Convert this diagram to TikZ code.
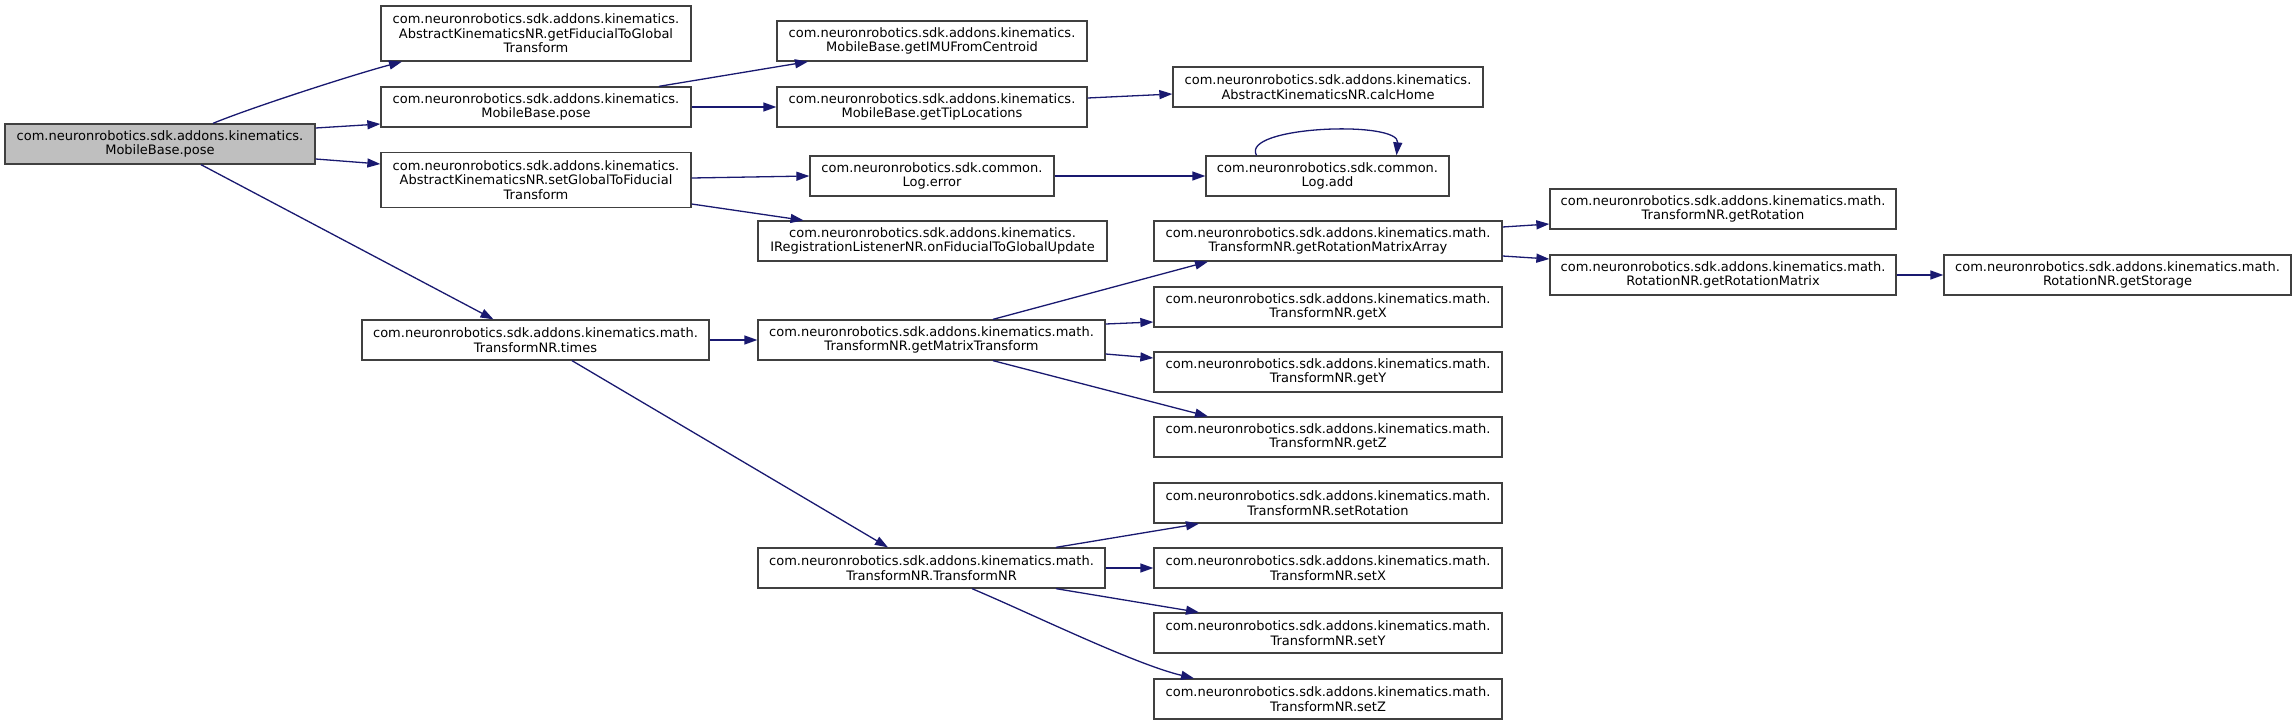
\documentclass[tikz,border=0pt]{standalone}
\usepackage{fontspec}
\setmainfont{DejaVu Sans}
\usetikzlibrary{arrows.meta}
\definecolor{edgec}{HTML}{191970}
\definecolor{boxc}{HTML}{404040}
\definecolor{rootfill}{HTML}{BFBFBF}
\begin{document}
\begin{tikzpicture}[x=1pt,y=-1pt,
  box/.style={draw=boxc,line width=1.3pt,fill=white,rectangle,inner sep=0pt,align=center,
    font=\fontsize{13}{14.5}\selectfont,minimum height=40pt},
  tall/.style={minimum height=55pt},
  rootbox/.style={fill=rootfill},
  edge/.style={draw=edgec,line width=1.3pt,-{Triangle[length=13pt,width=9pt]},color=edgec}]
\useasboundingbox (0,0) rectangle (2296,725);
% column 1
\node[box,rootbox,minimum width=310pt] (root) at (160,144) {com.neuronrobotics.sdk.addons.kinematics.\\MobileBase.pose};
% column 2
\node[box,tall,minimum width=310pt] (getFid) at (536,33.5) {com.neuronrobotics.sdk.addons.kinematics.\\AbstractKinematicsNR.getFiducialToGlobal\\Transform};
\node[box,minimum width=310pt] (mbpose) at (536,107) {com.neuronrobotics.sdk.addons.kinematics.\\MobileBase.pose};
\node[box,tall,minimum width=310pt] (setGF) at (536,180) {com.neuronrobotics.sdk.addons.kinematics.\\AbstractKinematicsNR.setGlobalToFiducial\\Transform};
\node[box,minimum width=347pt] (times) at (535.5,340) {com.neuronrobotics.sdk.addons.kinematics.math.\\TransformNR.times};
% column 3
\node[box,minimum width=310pt] (getIMU) at (932,41) {com.neuronrobotics.sdk.addons.kinematics.\\MobileBase.getIMUFromCentroid};
\node[box,minimum width=310pt] (getTip) at (932,107) {com.neuronrobotics.sdk.addons.kinematics.\\MobileBase.getTipLocations};
\node[box,minimum width=244pt] (logerror) at (932,176) {com.neuronrobotics.sdk.common.\\Log.error};
\node[box,minimum width=349pt] (onFid) at (932.5,241) {com.neuronrobotics.sdk.addons.kinematics.\\IRegistrationListenerNR.onFiducialToGlobalUpdate};
\node[box,minimum width=347pt] (getMT) at (931.5,340) {com.neuronrobotics.sdk.addons.kinematics.math.\\TransformNR.getMatrixTransform};
\node[box,minimum width=347pt] (tnr) at (931.5,568) {com.neuronrobotics.sdk.addons.kinematics.math.\\TransformNR.TransformNR};
% column 4
\node[box,minimum width=310pt] (calcHome) at (1328,87) {com.neuronrobotics.sdk.addons.kinematics.\\AbstractKinematicsNR.calcHome};
\node[box,minimum width=243pt] (logadd) at (1327.5,176) {com.neuronrobotics.sdk.common.\\Log.add};
\node[box,minimum width=348pt] (getRMA) at (1328,241) {com.neuronrobotics.sdk.addons.kinematics.math.\\TransformNR.getRotationMatrixArray};
\node[box,minimum width=348pt] (getX) at (1328,307) {com.neuronrobotics.sdk.addons.kinematics.math.\\TransformNR.getX};
\node[box,minimum width=348pt] (getY) at (1328,372) {com.neuronrobotics.sdk.addons.kinematics.math.\\TransformNR.getY};
\node[box,minimum width=348pt] (getZ) at (1328,437) {com.neuronrobotics.sdk.addons.kinematics.math.\\TransformNR.getZ};
\node[box,minimum width=348pt] (setRot) at (1328,503) {com.neuronrobotics.sdk.addons.kinematics.math.\\TransformNR.setRotation};
\node[box,minimum width=348pt] (setX) at (1328,568) {com.neuronrobotics.sdk.addons.kinematics.math.\\TransformNR.setX};
\node[box,minimum width=348pt] (setY) at (1328,633) {com.neuronrobotics.sdk.addons.kinematics.math.\\TransformNR.setY};
\node[box,minimum width=348pt] (setZ) at (1328,699) {com.neuronrobotics.sdk.addons.kinematics.math.\\TransformNR.setZ};
% column 5
\node[box,minimum width=346pt] (getRot) at (1723,209) {com.neuronrobotics.sdk.addons.kinematics.math.\\TransformNR.getRotation};
\node[box,minimum width=346pt] (getRM) at (1723,275) {com.neuronrobotics.sdk.addons.kinematics.math.\\RotationNR.getRotationMatrix};
% column 6
\node[box,minimum width=347pt] (getSto) at (2117.5,275) {com.neuronrobotics.sdk.addons.kinematics.math.\\RotationNR.getStorage};
% edges
\draw[edge] ([xshift=53pt]root.north) .. controls (250,108) and (352,75) .. ([xshift=-134pt]getFid.south);
\draw[edge] ([yshift=16pt]root.east) -- ([yshift=-17pt]mbpose.west);
\draw[edge] ([yshift=-15pt]root.east) -- ([yshift=16pt]setGF.west);
\draw[edge] ([xshift=41pt]root.south) -- ([xshift=-42pt]times.north);
\draw[edge] ([xshift=123pt]mbpose.north) -- ([xshift=-124pt]getIMU.south);
\draw[edge] (mbpose.east) -- (getTip.west);
\draw[edge] ([yshift=9pt]getTip.east) -- ([yshift=-7pt]calcHome.west);
\draw[edge] ([yshift=2pt]setGF.east) -- (logerror.west);
\draw[edge] ([yshift=-24pt]setGF.east) -- ([xshift=-129pt]onFid.north);
\draw[edge] (logerror.east) -- (logadd.west);
\draw[edge] ([xshift=-71pt]logadd.north) .. controls (1240,126) and (1400,120) .. ([xshift=69pt]logadd.north);
\draw[edge] (times.east) -- (getMT.west);
\draw[edge] ([xshift=36.5pt]times.south) -- ([xshift=-43.5pt]tnr.north);
\draw[edge] ([xshift=61.5pt]getMT.north) -- ([xshift=-120pt]getRMA.south);
\draw[edge] ([yshift=16pt]getMT.east) -- ([yshift=-15pt]getX.west);
\draw[edge] ([yshift=-14pt]getMT.east) -- ([yshift=14pt]getY.west);
\draw[edge] ([xshift=61.5pt]getMT.south) -- ([xshift=-120pt]getZ.north);
\draw[edge] ([yshift=14pt]getRMA.east) -- ([yshift=-15pt]getRot.west);
\draw[edge] ([yshift=-15pt]getRMA.east) -- ([yshift=16pt]getRM.west);
\draw[edge] (getRM.east) -- (getSto.west);
\draw[edge] ([xshift=124.5pt]tnr.north) -- ([xshift=-129pt]setRot.south);
\draw[edge] (tnr.east) -- (setX.west);
\draw[edge] ([xshift=124.5pt]tnr.south) -- ([xshift=-129pt]setY.north);
\draw[edge] ([xshift=40.5pt]tnr.south) .. controls (1032,614) and (1134,664) .. ([xshift=-134pt]setZ.north);
\end{tikzpicture}
\end{document}
